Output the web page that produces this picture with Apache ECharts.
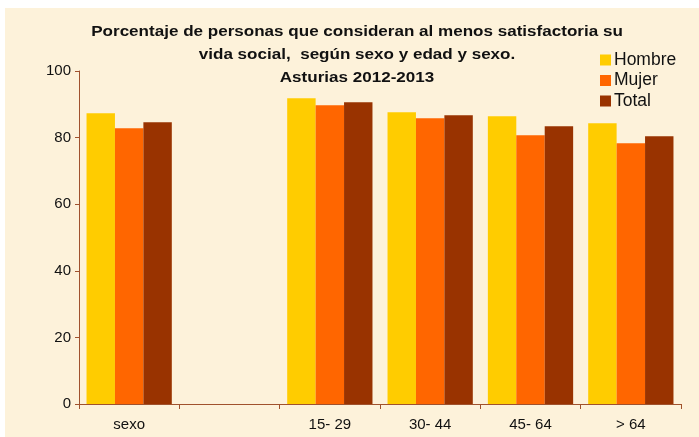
<!DOCTYPE html>
<html><head><meta charset="utf-8">
<script src="https://cdn.jsdelivr.net/npm/echarts@6/dist/echarts.min.js"></script>
<style>html,body{margin:0;padding:0;background:#fff}#c{width:699px;height:437px}</style>
</head><body><div id="c"></div>
<script>
const categories = ['sexo', '', '15- 29', '30- 44', '45- 64', '> 64'];
const hombre = [87.3, null, 91.8, 87.6, 86.4, 84.3];
const mujer  = [82.8, null, 89.7, 85.8, 80.7, 78.3];
const total  = [84.6, null, 90.6, 86.7, 83.4, 80.4];
const yTicks = [0, 20, 40, 60, 80, 100];
const titleLines = ['Porcentaje de personas que consideran al menos satisfactoria su', 'vida social,  según sexo y edad y sexo.', 'Asturias 2012-2013'];

const chart = echarts.init(document.getElementById('c'));
const font = '"Liberation Sans", Arial, sans-serif';
chart.setOption({
  backgroundColor: '#ffffff',
  animation: false,
  graphic: [
    {type: 'rect', z: -10, silent: true, shape: {x: 5, y: 8, width: 694, height: 429}, style: {fill: '#FDF2DA'}},
    {type: 'text', x: 357, y: 20, scaleX: 1.1, z: 10,
     style: {text: titleLines.join('\n'), textAlign: 'center', textVerticalAlign: 'top',
             font: 'bold 15.5px ' + font, lineHeight: 23, fill: '#111'}}
  ],
  legend: {
    orient: 'vertical', left: 595, top: 46, itemWidth: 11, itemHeight: 11, itemGap: 2.5,
    icon: 'rect',
    textStyle: {fontFamily: font, fontSize: 17.5, color: '#111', padding: [0, 0, 0, -2]},
    data: ['Hombre', 'Mujer', 'Total']
  },
  grid: {left: 79, right: 18, top: 71, bottom: 33},
  xAxis: {
    type: 'category', data: categories,
    axisLine: {lineStyle: {color: '#A0522D', width: 1}},
    axisTick: {show: true, alignWithLabel: false, length: 5, lineStyle: {color: '#A0522D'}},
    axisLabel: {fontFamily: font, fontSize: 15, color: '#111', margin: 13}
  },
  yAxis: {
    type: 'value', min: yTicks[0], max: yTicks[yTicks.length - 1], interval: 20,
    axisLine: {show: true, lineStyle: {color: '#A0522D', width: 1}},
    axisTick: {show: true, length: 4, lineStyle: {color: '#A0522D'}},
    splitLine: {show: false},
    axisLabel: {fontFamily: font, fontSize: 15, color: '#111', margin: 8}
  },
  series: [
    {name: 'Hombre', type: 'bar', data: hombre, itemStyle: {color: '#FFCC00'}, barGap: '0%', barCategoryGap: '15%'},
    {name: 'Mujer', type: 'bar', data: mujer, itemStyle: {color: '#FF6600'}},
    {name: 'Total', type: 'bar', data: total, itemStyle: {color: '#993300'}}
  ]
});
</script></body></html>
